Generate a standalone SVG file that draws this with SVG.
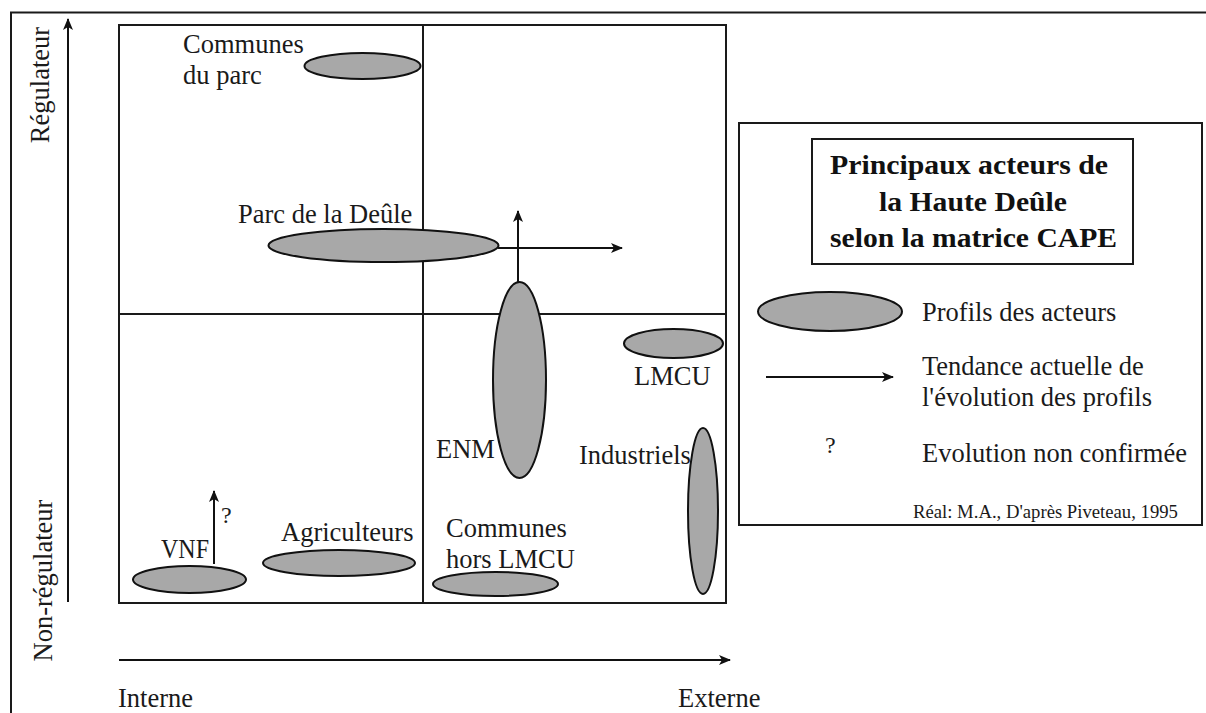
<svg xmlns="http://www.w3.org/2000/svg" width="1206" height="713" viewBox="0 0 1206 713">
<defs>
<marker id="ah" viewBox="0 0 12 10" refX="11" refY="5" markerWidth="12" markerHeight="10" markerUnits="userSpaceOnUse" orient="auto">
<path d="M0,0 L12,5 L0,10 L3,5 Z" fill="#111"/>
</marker>
<style>
.t{font-family:"Liberation Serif","Times New Roman",serif;font-size:26.5px;fill:#1a1a1a}
.s{font-family:"Liberation Serif","Times New Roman",serif;font-size:18.7px;fill:#1a1a1a}
.q{font-family:"Liberation Serif","Times New Roman",serif;font-size:24px;fill:#1a1a1a}
.b{font-family:"Liberation Serif","Times New Roman",serif;font-size:27px;font-weight:bold;fill:#111}
.ell{fill:#a8a8a8;stroke:#111;stroke-width:2}
.ln{stroke:#1a1a1a;stroke-width:2;fill:none}
.ar{stroke:#111;stroke-width:2;fill:none;marker-end:url(#ah)}
</style>
</defs>
<rect width="1206" height="713" fill="#fff"/>
<g id="frame">
<path class="ln" d="M11,713 V12.5 H1206"/>
<rect class="ln" x="119" y="25" width="607" height="578"/>
<line class="ln" x1="423" y1="25" x2="423" y2="603"/>
<line class="ln" x1="119" y1="314" x2="726" y2="314"/>
</g>
<g id="axes">
<line class="ar" x1="68" y1="602" x2="68" y2="19"/>
<line class="ar" x1="119" y1="660" x2="730" y2="660"/>
<text class="t" text-anchor="middle" transform="translate(49,85) rotate(-90)">Régulateur</text>
<text class="t" text-anchor="middle" transform="translate(52,580.5) rotate(-90)">Non-régulateur</text>
<text class="t" x="118" y="707">Interne</text>
<text class="t" x="678" y="707">Externe</text>
</g>
<g id="communes-du-parc">
<ellipse class="ell" cx="362.5" cy="66" rx="58" ry="13"/>
<text class="t" x="183" y="53">Communes</text>
<text class="t" x="183" y="84">du parc</text>
</g>
<g id="parc-deule">
<ellipse class="ell" cx="383.5" cy="245.5" rx="115" ry="16.5"/>
<text class="t" x="238" y="223">Parc de la Deûle</text>
</g>
<g id="enm">
<ellipse class="ell" cx="519.5" cy="380" rx="26.5" ry="98"/>
<text class="t" x="436" y="458">ENM</text>
</g>
<g id="lmcu">
<ellipse class="ell" cx="673.5" cy="343.5" rx="49.5" ry="14.5"/>
<text class="t" x="634" y="385">LMCU</text>
</g>
<g id="industriels">
<ellipse class="ell" cx="703" cy="511" rx="15" ry="83"/>
<text class="t" x="579" y="464">Industriels</text>
</g>
<g id="communes-hors-lmcu">
<ellipse class="ell" cx="495.5" cy="584" rx="62.5" ry="12"/>
<text class="t" x="446" y="537">Communes</text>
<text class="t" x="446" y="568">hors LMCU</text>
</g>
<g id="agriculteurs">
<ellipse class="ell" cx="339" cy="563" rx="76" ry="13"/>
<text class="t" x="281" y="541">Agriculteurs</text>
</g>
<g id="vnf">
<ellipse class="ell" cx="189.5" cy="579.5" rx="56.5" ry="13.5"/>
<text class="t" x="161" y="558" textLength="48" lengthAdjust="spacingAndGlyphs">VNF</text>
</g>
<g id="connectors">
<line class="ar" x1="498" y1="248" x2="622" y2="248"/>
<line class="ar" x1="518" y1="282" x2="518" y2="211"/>
<line class="ar" x1="214" y1="564" x2="214" y2="491"/>
<text class="q" x="221" y="523">?</text>
</g>
<g id="legend">
<rect class="ln" x="739" y="123" width="463" height="402"/>
<rect class="ln" x="812" y="139" width="321" height="125"/>
<text class="b" x="969" y="174" text-anchor="middle" textLength="278" lengthAdjust="spacingAndGlyphs">Principaux acteurs de</text>
<text class="b" x="973" y="211" text-anchor="middle" textLength="188" lengthAdjust="spacingAndGlyphs">la Haute Deûle</text>
<text class="b" x="973.5" y="247" text-anchor="middle" textLength="287" lengthAdjust="spacingAndGlyphs">selon la matrice CAPE</text>
<ellipse class="ell" cx="830" cy="311.5" rx="72" ry="19.5"/>
<text class="t" x="922" y="321">Profils des acteurs</text>
<line class="ar" x1="766" y1="377" x2="893" y2="377"/>
<text class="t" x="922" y="375">Tendance actuelle de</text>
<text class="t" x="922" y="406">l'évolution des profils</text>
<text class="q" x="825" y="453">?</text>
<text class="t" x="922" y="462">Evolution non confirmée</text>
<text class="s" x="913" y="518">Réal: M.A., D'après Piveteau, 1995</text>
</g>
</svg>
